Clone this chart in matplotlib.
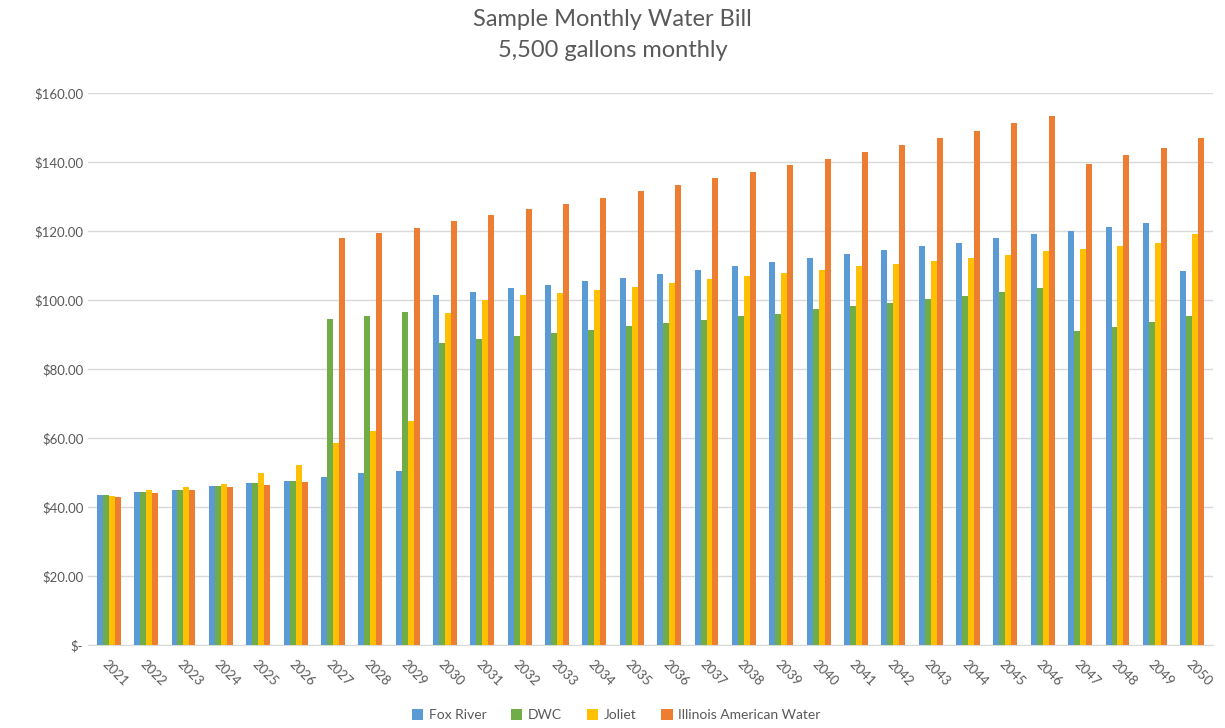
import numpy as np
import matplotlib.pyplot as plt
from matplotlib.ticker import FuncFormatter

plt.rcParams['font.family'] = ['Lato', 'DejaVu Sans']

years = [str(y) for y in range(2021, 2051)]

fox_river = [43.5, 44.3, 45.0, 46.0, 47.0, 47.6, 48.7, 50.0, 50.5, 101.5,
             102.3, 103.4, 104.4, 105.5, 106.5, 107.6, 108.7, 109.9, 111.0, 112.2,
             113.4, 114.4, 115.6, 116.7, 118.0, 119.2, 120.1, 121.3, 122.3, 108.4]
dwc = [43.5, 44.3, 45.0, 46.0, 47.0, 47.6, 94.5, 95.5, 96.5, 87.7,
       88.6, 89.5, 90.6, 91.2, 92.4, 93.3, 94.2, 95.3, 96.1, 97.3,
       98.4, 99.3, 100.2, 101.3, 102.4, 103.4, 91.1, 92.2, 93.8, 95.4]
joliet = [43.3, 44.9, 45.7, 46.6, 50.0, 52.2, 58.5, 62.0, 65.0, 96.3,
          100.0, 101.5, 102.0, 103.0, 103.9, 104.9, 106.2, 107.0, 107.9, 108.8,
          109.9, 110.6, 111.3, 112.2, 113.2, 114.2, 114.8, 115.6, 116.5, 119.3]
illinois_american = [43.0, 44.2, 44.8, 45.8, 46.5, 47.3, 118.0, 119.5, 121.0, 123.0,
                     124.8, 126.3, 128.0, 129.7, 131.5, 133.5, 135.3, 137.2, 139.2, 141.0,
                     143.0, 145.0, 147.0, 149.1, 151.3, 153.3, 139.6, 142.0, 144.1, 147.0]

series = [("Fox River", fox_river, "#5B9BD5"),
          ("DWC", dwc, "#70AD47"),
          ("Joliet", joliet, "#FFC000"),
          ("Illinois American Water", illinois_american, "#ED7D31")]

fig = plt.figure(figsize=(12.25, 7.28), dpi=100)
ax = fig.add_axes([0.072, 0.114, 0.918, 0.758])

x = np.arange(len(years))
w = 0.16
for i, (name, vals, col) in enumerate(series):
    ax.bar(x + (i - 1.5) * w, vals, width=w, color=col, label=name, zorder=3)

ax.set_xlim(-0.55, len(years) - 0.45)
ax.set_ylim(0, 160)
ax.set_yticks(np.arange(0, 161, 20))
ax.yaxis.set_major_formatter(FuncFormatter(lambda v, p: "$-" if v == 0 else f"${v:.2f}"))
ax.set_xticks(x)
ax.set_xticklabels(years, rotation=-45, ha='left', rotation_mode='anchor')
ax.tick_params(axis='both', length=0, colors='#595959', labelsize=9.5)
ax.tick_params(axis='x', pad=9)
ax.grid(axis='y', color='#D9D9D9', linewidth=1, zorder=0)
for s in ['top', 'right', 'left']:
    ax.spines[s].set_visible(False)
ax.spines['bottom'].set_color('#D9D9D9')

fig.suptitle("Sample Monthly Water Bill\n5,500 gallons monthly", y=0.988,
             fontsize=17, color='#595959', linespacing=1.6)

fig.legend(loc='lower center', ncol=4, frameon=False, fontsize=10,
           bbox_to_anchor=(0.503, -0.008), handlelength=0.8, handleheight=0.8,
           columnspacing=1.8, handletextpad=0.4, labelcolor='#595959')

fig.savefig("out.png", dpi=100)
